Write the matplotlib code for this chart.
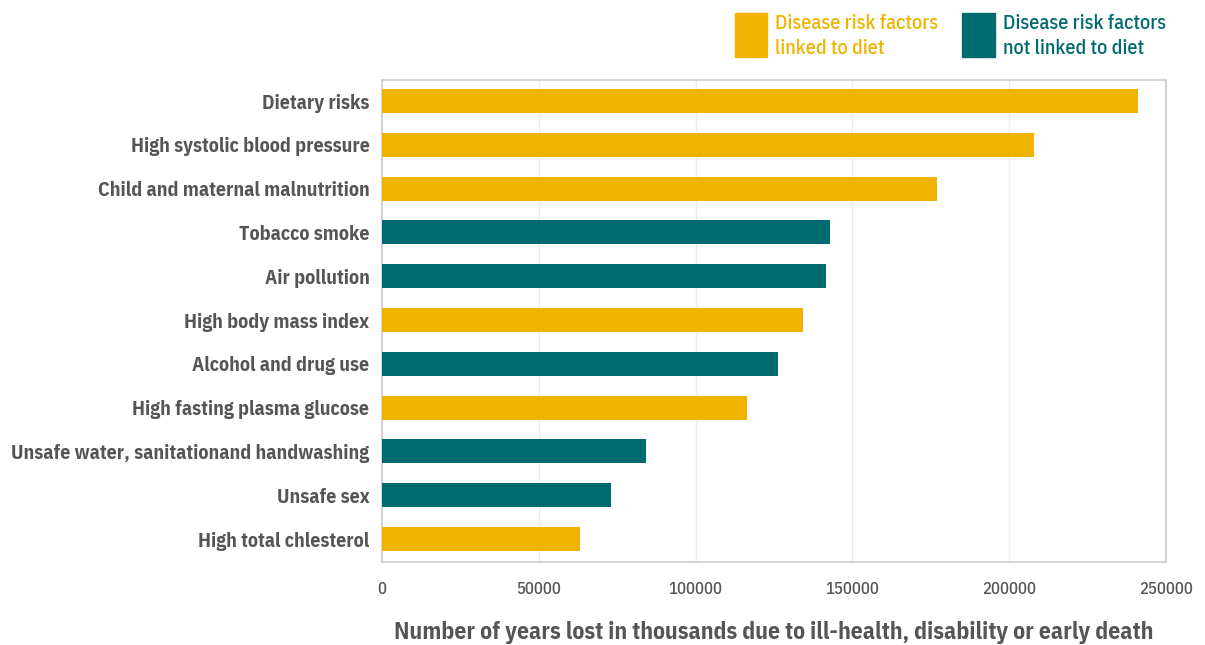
import matplotlib.pyplot as plt
from matplotlib.patches import Rectangle

categories = [
    "Dietary risks",
    "High systolic blood pressure",
    "Child and maternal malnutrition",
    "Tobacco smoke",
    "Air pollution",
    "High body mass index",
    "Alcohol and drug use",
    "High fasting plasma glucose",
    "Unsafe water, sanitationand handwashing",
    "Unsafe sex",
    "High total chlesterol",
]
values = [241000, 208000, 177000, 143000, 141600, 134300, 126300, 116400, 84200, 73000, 63200]
diet_linked = [True, True, True, False, False, True, False, True, False, False, True]
xticks = [0, 50000, 100000, 150000, 200000, 250000]

GOLD = "#F0B400"
TEAL = "#006B6E"
TEXT = "#555555"

plt.rcParams["font.family"] = ["IBM Plex Sans Condensed", "DejaVu Sans"]

fig = plt.figure(figsize=(12.05, 6.45), dpi=100)
ax = fig.add_axes([382 / 1205, 1 - 562 / 645, 784 / 1205, 482 / 645])

colors = [GOLD if d else TEAL for d in diet_linked]
y = range(len(categories))
ax.barh(y, values, height=0.55, color=colors, zorder=3)
ax.set_ylim(len(categories) - 1 + 0.525, -0.48)
ax.set_xlim(0, 250000)
ax.set_yticks(list(y))
ax.set_yticklabels(categories, fontsize=14.3, fontweight="bold", color=TEXT)
ax.set_xticks(xticks)
ax.set_xticklabels([str(t) for t in xticks], fontsize=12, fontweight="medium", color=TEXT)
ax.tick_params(axis="both", length=0)
ax.tick_params(axis="x", pad=14)
ax.tick_params(axis="y", pad=9)
ax.grid(axis="x", color="#ebebeb", linewidth=1, zorder=0)
for s in ax.spines.values():
    s.set_color("#cccccc")
    s.set_linewidth(1.2)

ax.set_xlabel("Number of years lost in thousands due to ill-health, disability or early death",
              fontsize=17, fontweight="bold", color=TEXT, labelpad=17)

# legend drawn by hand
fig.patches.append(Rectangle((735 / 1205, 1 - 57 / 645), 32 / 1205, 44 / 645,
                             transform=fig.transFigure, color=GOLD))
fig.text(775 / 1205, 1 - 36 / 645, "Disease risk factors\nlinked to diet", color=GOLD,
         fontsize=14.5, fontweight="medium", va="center", ha="left", linespacing=1.4)
fig.patches.append(Rectangle((962 / 1205, 1 - 57 / 645), 33 / 1205, 44 / 645,
                             transform=fig.transFigure, color=TEAL))
fig.text(1003 / 1205, 1 - 36 / 645, "Disease risk factors\nnot linked to diet", color=TEAL,
         fontsize=14.5, fontweight="medium", va="center", ha="left", linespacing=1.4)

fig.savefig("out.png", dpi=100)
